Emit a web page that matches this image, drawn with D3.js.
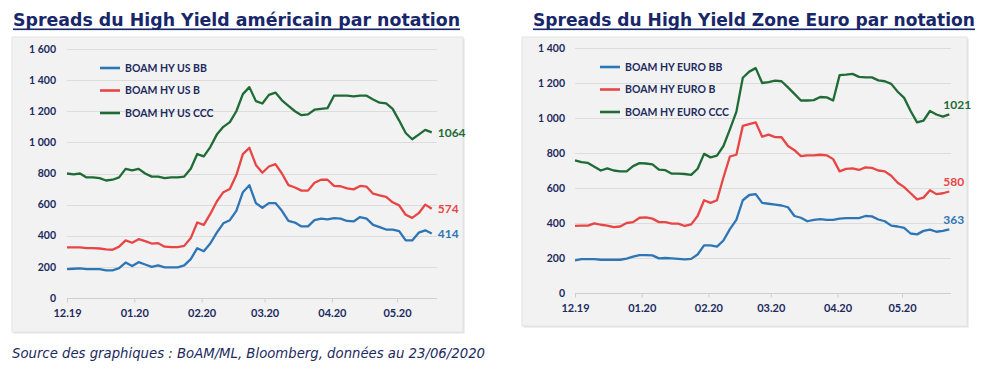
<!DOCTYPE html>
<html>
<head>
<meta charset="utf-8">
<script src="https://cdn.jsdelivr.net/npm/d3@7"></script>
<style>
  body { margin: 0; background: #ffffff; }
  svg { display: block; }
</style>
</head>
<body>
<div id="chart"></div>
<script>
// one point every 3 days from 01/12/2019
const startDate = new Date(2019, 11, 1);
const dayOffsets = d3.range(0, 175, 3);

const monthLabels = ["12.19", "01.20", "02.20", "03.20", "04.20", "05.20"];
const monthDates = [new Date(2019, 11, 1), new Date(2020, 0, 1), new Date(2020, 1, 1),
                    new Date(2020, 2, 1), new Date(2020, 3, 1), new Date(2020, 4, 1)];

const yTicksUS = [0, 200, 400, 600, 800, 1000, 1200, 1400, 1600];
const yTicksEU = [0, 200, 400, 600, 800, 1000, 1200, 1400];

const usBB = [186, 188, 190, 186, 186, 185, 178, 178, 192, 228, 205, 230, 215, 200, 210, 197, 197, 197, 210, 250,
              320, 300, 350, 420, 480, 500, 560, 680, 725, 610, 580, 610, 610, 560, 495, 485, 460, 460, 500, 510,
              505, 513, 510, 495, 492, 520, 510, 470, 455, 440, 440, 430, 370, 370, 420, 435, 414];
const usB = [325, 325, 325, 320, 320, 318, 312, 310, 330, 370, 355, 378, 365, 350, 352, 330, 327, 327, 335, 385,
             485, 470, 540, 620, 680, 700, 790, 925, 965, 855, 805, 845, 860, 800, 725, 710, 690, 690, 740, 760,
             760, 720, 718, 705, 698, 720, 715, 670, 660, 650, 615, 595, 535, 515, 545, 600, 574];
const usCCC = [800, 795, 800, 775, 775, 770, 755, 760, 775, 830, 820, 830, 800, 780, 780, 770, 775, 775, 780, 830,
               925, 910, 970, 1050, 1100, 1130, 1200, 1310, 1355, 1265, 1250, 1305, 1320, 1270, 1235, 1200, 1175, 1180, 1210, 1215,
               1220, 1300, 1300, 1300, 1295, 1300, 1300, 1275, 1255, 1250, 1215, 1140, 1060, 1020, 1050, 1080, 1064];

const euBB = [187, 193, 194, 194, 190, 190, 190, 190, 197, 208, 217, 217, 215, 198, 200, 198, 195, 192, 195, 220,
              272, 272, 265, 300, 365, 418, 530, 560, 565, 515, 510, 505, 500, 490, 440, 430, 410, 418, 422, 418,
              418, 425, 428, 428, 428, 440, 438, 420, 410, 385, 380, 372, 340, 335, 355, 362, 350, 355, 363];
const euB = [383, 385, 385, 398, 390, 385, 377, 380, 400, 405, 430, 432, 425, 405, 405, 396, 396, 383, 392, 440,
             530, 515, 530, 660, 780, 790, 955, 965, 975, 893, 905, 891, 890, 840, 816, 782, 787, 787, 790, 787,
             765, 695, 709, 712, 703, 718, 715, 700, 695, 670, 630, 605, 570, 535, 545, 587, 565, 570, 580];
const euCCC = [758, 748, 743, 722, 700, 712, 700, 695, 695, 725, 742, 740, 735, 705, 702, 682, 682, 680, 675, 710,
               795, 775, 785, 840, 935, 1035, 1230, 1265, 1285, 1200, 1205, 1213, 1210, 1175, 1138, 1100, 1100, 1102, 1120, 1118,
               1100, 1245, 1248, 1252, 1235, 1232, 1232, 1215, 1210, 1195, 1150, 1115, 1040, 975, 985, 1040, 1020, 1008, 1021];

const colBB = "#2e75b6";
const colB = "#e84545";
const colCCC = "#1f6b36";
const navy = "#1c2a5e";
const titleNavy = "#17276a";

const width = 993;
const height = 388;

const svg = d3.select("#chart")
    .append("svg")
    .attr("width", width)
    .attr("height", height);

function frNum(v) {
    return v >= 1000 ? Math.floor(v / 1000) + " " + d3.format("03d")(v % 1000) : String(v);
}

function drawPanel(cfg) {
    const g = svg.append("g");

    // title + underline
    g.append("text")
        .attr("x", cfg.titleX)
        .attr("y", 26)
        .attr("font-family", "DejaVu Sans")
        .attr("font-weight", "bold")
        .attr("font-size", 17)
        .attr("fill", titleNavy)
        .attr("textLength", cfg.titleW)
        .attr("lengthAdjust", "spacingAndGlyphs")
        .text(cfg.title);
    g.append("rect")
        .attr("x", cfg.titleX)
        .attr("y", 28.5)
        .attr("width", cfg.titleW)
        .attr("height", 1.6)
        .attr("fill", titleNavy);

    // background panel
    g.append("rect")
        .attr("x", cfg.box[0] + 1.5)
        .attr("y", cfg.box[1] + 1.5)
        .attr("width", cfg.box[2])
        .attr("height", cfg.box[3])
        .attr("fill", "#e2e2e2");
    g.append("rect")
        .attr("x", cfg.box[0])
        .attr("y", cfg.box[1])
        .attr("width", cfg.box[2])
        .attr("height", cfg.box[3])
        .attr("fill", "#f2f2f2")
        .attr("stroke", "#e4e4e4")
        .attr("stroke-width", 1);

    const x = d3.scaleTime()
        .domain([monthDates[0], monthDates[5]])
        .range([cfg.x0, cfg.x5]);
    const y = d3.scaleLinear()
        .domain([0, cfg.yMax])
        .range([cfg.yBottom, cfg.yTop]);

    // gridlines
    g.append("g")
        .selectAll("line")
        .data(cfg.yTicks.filter(d => d > 0))
        .join("line")
        .attr("x1", cfg.x0)
        .attr("x2", cfg.gridEnd)
        .attr("y1", d => Math.round(y(d)) + 0.5)
        .attr("y2", d => Math.round(y(d)) + 0.5)
        .attr("stroke", "#dcdcdc")
        .attr("stroke-width", 1);

    // x axis
    const xAxis = d3.axisBottom(x)
        .tickValues(monthDates)
        .tickSize(4)
        .tickSizeOuter(0)
        .tickFormat((d, i) => monthLabels[i]);
    const gx = g.append("g")
        .attr("transform", "translate(0," + (Math.round(y(0)) + 0.5) + ")")
        .call(xAxis);
    gx.select(".domain")
        .attr("d", "M" + cfg.x0 + ",0H" + cfg.gridEnd)
        .attr("stroke", "#cfcfcf");
    gx.selectAll(".tick line").attr("stroke", "#cfcfcf");
    gx.selectAll(".tick text")
        .attr("y", 11)
        .attr("fill", navy)
        .attr("font-family", "Lato")
        .attr("font-weight", "bold")
        .attr("font-size", 11);

    // y axis labels
    g.append("g")
        .selectAll("text")
        .data(cfg.yTicks)
        .join("text")
        .attr("x", cfg.yLabelX)
        .attr("y", d => y(d))
        .attr("dy", "0.35em")
        .attr("text-anchor", "end")
        .attr("fill", navy)
        .attr("font-family", "Lato")
        .attr("font-weight", "bold")
        .attr("font-size", 10.5)
        .text(d => frNum(d));

    const line = d3.line()
        .x((d, i) => x(d3.timeDay.offset(startDate, dayOffsets[i])))
        .y(d => y(d));

    cfg.series.forEach(s => {
        g.append("path")
            .datum(s.values)
            .attr("fill", "none")
            .attr("stroke", s.color)
            .attr("stroke-width", 2.3)
            .attr("stroke-linejoin", "round")
            .attr("d", line);

        const last = s.values[s.values.length - 1];
        const lastX = x(d3.timeDay.offset(startDate, dayOffsets[s.values.length - 1]));
        g.append("text")
            .attr("x", lastX + cfg.endDx)
            .attr("y", y(last) + cfg.endDy)
            .attr("dy", "0.35em")
            .attr("fill", s.color)
            .attr("font-family", "Lato")
            .attr("font-weight", "bold")
            .attr("font-size", 12)
            .text(last);
    });

    // legend
    const leg = g.append("g")
        .selectAll("g")
        .data(cfg.series)
        .join("g")
        .attr("transform", (d, i) => "translate(" + cfg.legX + "," + (cfg.legY + i * 22.5) + ")");
    leg.append("line")
        .attr("x1", 0)
        .attr("x2", 20)
        .attr("stroke", d => d.color)
        .attr("stroke-width", 2.6);
    leg.append("text")
        .attr("x", 25)
        .attr("dy", "0.35em")
        .attr("fill", navy)
        .attr("font-family", "Lato")
        .attr("font-weight", "bold")
        .attr("font-size", 10.5)
        .text(d => d.name);
}

drawPanel({
    title: "Spreads du High Yield américain par notation",
    titleX: 13,
    titleW: 447,
    box: [12, 37, 451, 295],
    x0: 67,
    x5: 397,
    gridEnd: 437,
    yBottom: 298,
    yTop: 49,
    yMax: 1600,
    yTicks: yTicksUS,
    yLabelX: 56,
    endDx: 6,
    endDy: 0,
    legX: 100,
    legY: 68,
    series: [
        { name: "BOAM HY US BB", values: usBB, color: colBB },
        { name: "BOAM HY US B", values: usB, color: colB },
        { name: "BOAM HY US CCC", values: usCCC, color: colCCC }
    ]
});

drawPanel({
    title: "Spreads du High Yield Zone Euro par notation",
    titleX: 533,
    titleW: 442,
    box: [522, 37, 445, 289],
    x0: 575,
    x5: 902,
    gridEnd: 951,
    yBottom: 293,
    yTop: 48,
    yMax: 1400,
    yTicks: yTicksEU,
    yLabelX: 565,
    endDx: -6,
    endDy: -10,
    legX: 600,
    legY: 67,
    series: [
        { name: "BOAM HY EURO BB", values: euBB, color: colBB },
        { name: "BOAM HY EURO B", values: euB, color: colB },
        { name: "BOAM HY EURO CCC", values: euCCC, color: colCCC }
    ]
});

svg.append("text")
    .attr("x", 12)
    .attr("y", 358)
    .attr("font-family", "DejaVu Sans")
    .attr("font-style", "italic")
    .attr("font-size", 14)
    .attr("fill", navy)
    .attr("textLength", 473)
    .attr("lengthAdjust", "spacingAndGlyphs")
    .text("Source des graphiques : BoAM/ML, Bloomberg, données au 23/06/2020");
</script>
</body>
</html>
